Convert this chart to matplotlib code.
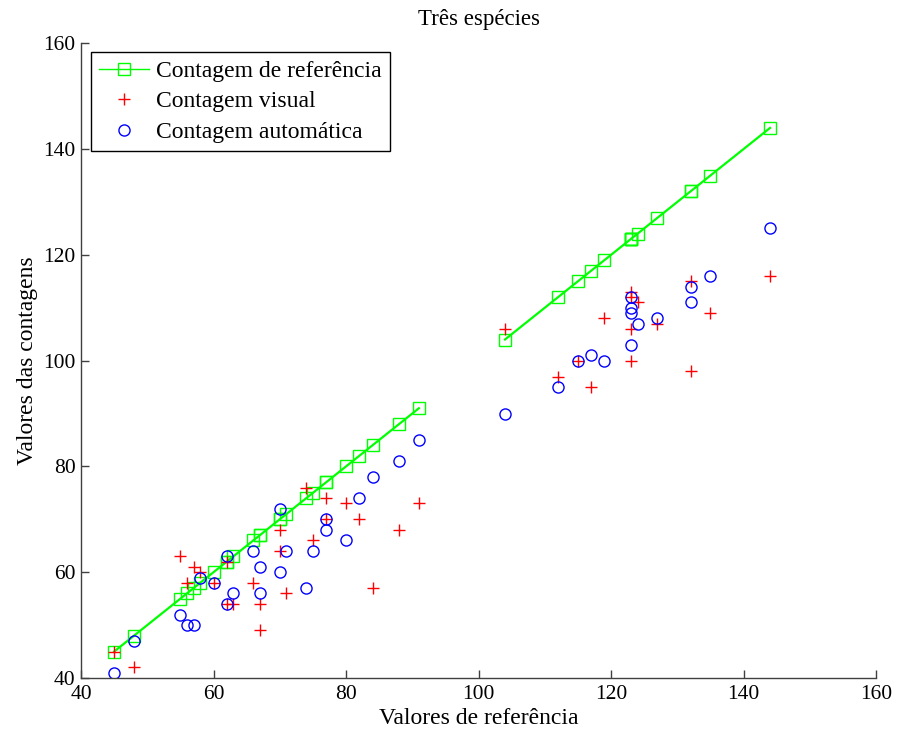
import matplotlib
matplotlib.use('Agg')
import matplotlib.pyplot as plt

plt.rcParams['font.family'] = ['Liberation Serif', 'DejaVu Serif']

# grupo de baixo (valores de referencia ate 91)
ref_baixo = [45, 48, 55, 56, 57, 58, 60, 62, 62, 63, 66, 67, 67, 70, 70, 71, 74, 75, 77, 77, 80, 82, 84, 88, 91]
vis_baixo = [45, 42, 63, 58, 61, 60, 58, 62, 54, 54, 58, 54, 49, 68, 64, 56, 76, 66, 74, 70, 73, 70, 57, 68, 73]
auto_baixo = [41, 47, 52, 50, 50, 59, 58, 63, 54, 56, 64, 61, 56, 72, 60, 64, 57, 64, 70, 68, 66, 74, 78, 81, 85]

# grupo de cima (a partir de 104)
ref_alto = [104, 112, 115, 117, 119, 123, 123, 123, 123, 124, 127, 132, 132, 135, 144]
vis_alto = [106, 97, 100, 95, 108, 113, 112, 106, 100, 111, 107, 115, 98, 109, 116]
auto_alto = [90, 95, 100, 101, 100, 112, 110, 109, 103, 107, 108, 114, 111, 116, 125]

ticks = [40, 60, 80, 100, 120, 140, 160]

verde = '#00ff00'
vermelho = '#ff0000'
azul = '#0000ff'

fig = plt.figure(figsize=(8.97, 7.38), dpi=100)
ax = fig.add_axes([0.0903, 0.0813, 0.8863, 0.86])

ax.plot(ref_baixo, ref_baixo, '-s', color=verde, lw=1.6, ms=8.5, mfc='none', mec=verde, mew=1.0,
        label='Contagem de referência')
ax.plot(ref_alto, ref_alto, '-s', color=verde, lw=1.6, ms=8.5, mfc='none', mec=verde, mew=1.0,
        label='_nolegend_')

ax.plot(ref_baixo + ref_alto, vis_baixo + vis_alto, '+', color=vermelho, ms=9, mew=1.0,
        label='Contagem visual')
ax.plot(ref_baixo + ref_alto, auto_baixo + auto_alto, 'o', color=azul, ms=8, mfc='none', mew=1.0,
        label='Contagem automática')

ax.set_xlim(40, 160)
ax.set_ylim(40, 160)
ax.set_xticks(ticks)
ax.set_yticks(ticks)

for lado in ['top', 'right']:
    ax.spines[lado].set_visible(False)
for lado in ['left', 'bottom']:
    ax.spines[lado].set_color('#404040')
    ax.spines[lado].set_linewidth(1.0)

ax.tick_params(direction='in', length=6, width=1.0, color='#404040', labelsize=15.5)
ax.tick_params(axis='x', pad=5)
ax.tick_params(axis='y', pad=4)

ax.set_title('Três espécies', fontsize=16.5, pad=13)
ax.set_xlabel('Valores de referência', fontsize=17, labelpad=3)
ax.set_ylabel('Valores das contagens', fontsize=17, labelpad=4)

leg = ax.legend(loc='upper left', bbox_to_anchor=(0.0126, 0.9863), borderaxespad=0,
                fontsize=17, fancybox=False, shadow=False, framealpha=1,
                edgecolor='black', handlelength=2.1, handletextpad=0.3,
                labelspacing=0.38, borderpad=0.35)
leg.get_frame().set_linewidth(1.0)
for h in leg.legend_handles:
    h.set_linewidth(1.0)

fig.savefig('out.png', dpi=100)
